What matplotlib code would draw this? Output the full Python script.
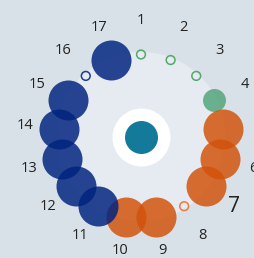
import numpy as np
import matplotlib.pyplot as plt

# 17 categories around the ring
labels = [str(i) for i in range(1, 18)]
groups = ["g", "g", "g", "g", "o", "o", "o", "o", "o", "o",
          "b", "b", "b", "b", "b", "b", "b"]
values = [0, 0, 0, 3.3, 10, 10, 10, 0, 10, 10, 10, 10, 10, 10, 10, 0, 10]
highlight = "7"

fill = {"g": "#54a57b", "o": "#d2520a", "b": "#00237f"}
ring = {"g": "#55a868", "o": "#ec7a3c", "b": "#1f3d91"}

outer_bg = "#d8e1e7"
inner_bg = "#e6ebf2"

fig = plt.figure(figsize=(2.55, 2.58), dpi=100, facecolor=outer_bg)
H = 120  # half-size of axes in pixels
ax = fig.add_axes([(141 - H) / 255, (258 - 136.5 - H) / 258, 2 * H / 255, 2 * H / 258],
                  projection="polar")
ax.set_facecolor("none")
ax.set_theta_zero_location("N")
ax.set_theta_direction(-1)
ax.set_ylim(0, H / 82)
ax.grid(False)
ax.spines["polar"].set_visible(False)
ax.set_xticks([])
ax.set_yticks([])

n = len(labels)
theta = np.arange(n) * 2 * np.pi / n

# light inner disk
t = np.linspace(0, 2 * np.pi, 300)
ax.fill(t, np.full_like(t, 1.03), color=inner_bg, zorder=0, lw=0)

# center marks
ax.scatter([0], [0], s=1744, color="white", zorder=1, lw=0)
ax.scatter([0], [0], s=564, color="#137a99", zorder=2, lw=0)

for th, v, g, lab in zip(theta, values, groups, labels):
    if v > 0:
        ax.scatter(th, 1, s=v * 83, color=fill[g], alpha=0.84, lw=0, zorder=3)
    else:
        ax.scatter(th, 1, s=40, facecolor="none", edgecolor=ring[g], lw=1.1, zorder=3)
    big = lab == highlight
    ax.text(th, 1.42, lab, ha="center", va="center",
            fontsize=15 if big else 10.5, color="#222222",
            family="Open Sans", clip_on=False)

plt.savefig("out.png", dpi=100, facecolor=outer_bg)
